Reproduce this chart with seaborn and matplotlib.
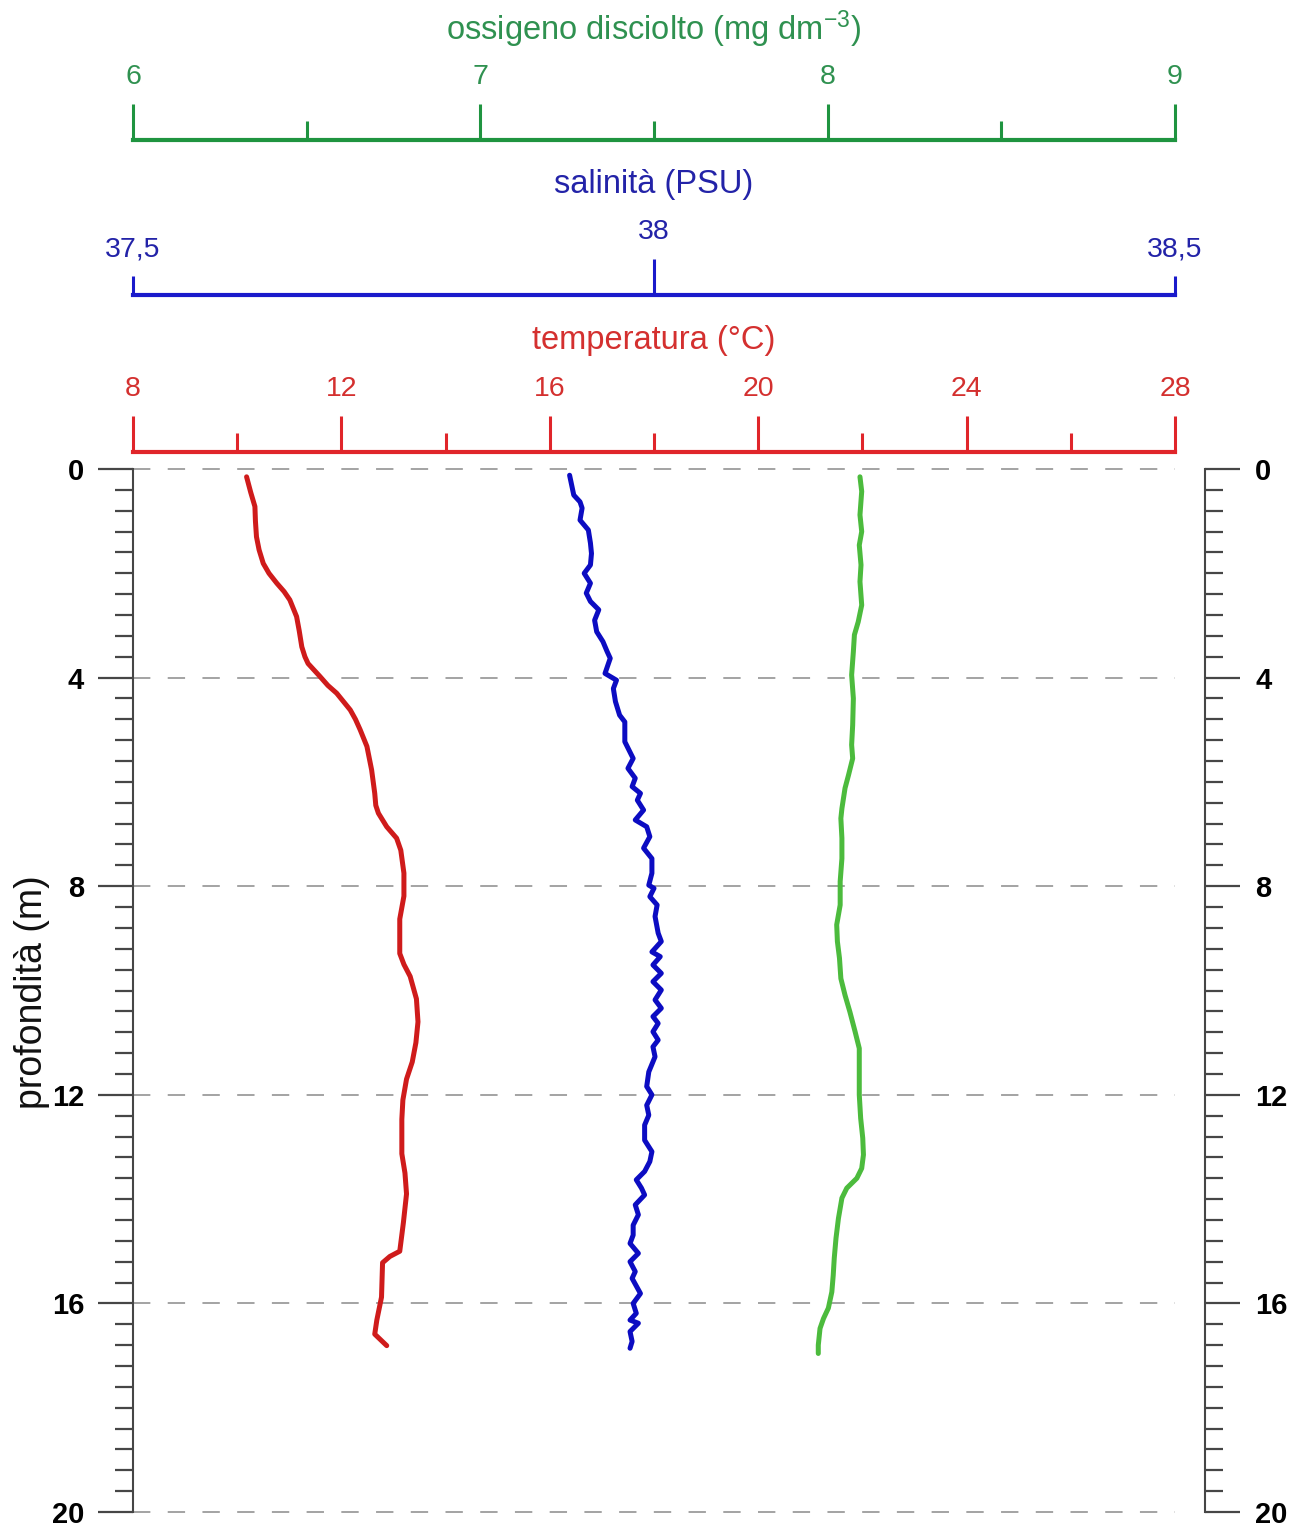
import matplotlib
matplotlib.use("Agg")
import matplotlib.pyplot as plt
from matplotlib.ticker import FixedLocator, FixedFormatter, MultipleLocator, NullFormatter
import pandas as pd
import seaborn as sns

# ---- profile data -------------------------------------------------------
temp_depth = [0.15, 0.45, 0.72, 1.0, 1.30, 1.55, 1.81, 2.0, 2.19, 2.35, 2.51, 2.83,
              3.1, 3.41, 3.6, 3.73, 3.98, 4.15, 4.30, 4.62, 4.8, 5.0, 5.32, 5.77,
              6.22, 6.45, 6.60, 6.86, 7.08, 7.31, 7.75, 8.19, 8.63, 9.29, 9.5, 9.73,
              10.16, 10.60, 11.0, 11.37, 11.70, 12.1, 12.47, 13.13, 13.5, 13.90,
              14.45, 15.0, 15.1, 15.22, 15.88, 16.32, 16.59, 16.81]
temp_values = [10.18, 10.26, 10.34, 10.35, 10.37, 10.42, 10.50, 10.61, 10.76, 10.90,
               11.01, 11.14, 11.19, 11.24, 11.30, 11.36, 11.59, 11.74, 11.91, 12.17,
               12.27, 12.36, 12.49, 12.58, 12.64, 12.66, 12.71, 12.87, 13.06, 13.14,
               13.20, 13.20, 13.12, 13.12, 13.20, 13.32, 13.44, 13.47, 13.43, 13.36,
               13.25, 13.18, 13.16, 13.16, 13.22, 13.25, 13.19, 13.12, 12.93, 12.79,
               12.77, 12.68, 12.64, 12.87]

sal_depth = [0.12, 0.50, 0.63, 0.75, 0.98, 1.17, 1.42, 1.62, 1.84, 2.00, 2.19, 2.38,
             2.54, 2.70, 2.90, 3.12, 3.31, 3.50, 3.63, 3.92, 4.05, 4.21, 4.46, 4.72,
             4.85, 5.23, 5.55, 5.74, 5.93, 6.09, 6.22, 6.35, 6.54, 6.73, 6.86, 7.05,
             7.27, 7.47, 7.75, 7.98, 8.04, 8.20, 8.36, 8.58, 8.90, 9.06, 9.26, 9.35,
             9.51, 9.67, 9.83, 9.99, 10.18, 10.34, 10.50, 10.63, 10.79, 10.95, 11.08,
             11.27, 11.56, 11.84, 12.00, 12.20, 12.39, 12.58, 12.87, 13.09, 13.28,
             13.47, 13.63, 13.79, 13.92, 14.11, 14.30, 14.50, 14.69, 14.85, 15.04,
             15.20, 15.39, 15.52, 15.81, 16.00, 16.19, 16.32, 16.38, 16.54, 16.73,
             16.86]
sal_values = [37.919, 37.923, 37.929, 37.931, 37.929, 37.937, 37.939, 37.940, 37.939,
              37.933, 37.939, 37.935, 37.939, 37.947, 37.943, 37.945, 37.951, 37.955,
              37.958, 37.953, 37.964, 37.961, 37.963, 37.967, 37.972, 37.972, 37.980,
              37.975, 37.982, 37.979, 37.987, 37.984, 37.990, 37.982, 37.993, 37.996,
              37.990, 37.998, 37.998, 37.995, 38.000, 37.996, 38.003, 38.001, 38.004,
              38.007, 37.998, 38.006, 37.999, 38.007, 37.999, 38.007, 38.001, 38.007,
              37.999, 38.004, 37.999, 38.004, 37.999, 38.001, 37.995, 37.993, 37.998,
              37.993, 37.995, 37.991, 37.991, 37.998, 37.996, 37.991, 37.983, 37.988,
              37.991, 37.982, 37.985, 37.980, 37.980, 37.977, 37.985, 37.977, 37.982,
              37.979, 37.987, 37.980, 37.983, 37.977, 37.985, 37.977, 37.979, 37.977]

oxy_depth = [0.15, 0.43, 0.88, 1.20, 1.46, 1.84, 2.16, 2.61, 2.93, 3.18, 3.50, 3.95,
             4.40, 4.91, 5.29, 5.55, 5.87, 6.12, 6.51, 6.70, 7.08, 7.47, 7.91, 8.36,
             8.74, 9.06, 9.38, 9.77, 10.09, 10.41, 10.79, 11.11, 11.56, 12.00, 12.45,
             12.83, 13.15, 13.41, 13.60, 13.79, 13.98, 14.37, 14.75, 15.13, 15.46,
             15.78, 16.09, 16.29, 16.48, 16.80, 16.96]
oxy_values = [8.093, 8.098, 8.093, 8.098, 8.091, 8.096, 8.093, 8.098, 8.088, 8.077,
              8.074, 8.069, 8.074, 8.072, 8.069, 8.072, 8.060, 8.050, 8.041, 8.038,
              8.041, 8.041, 8.036, 8.036, 8.026, 8.028, 8.034, 8.038, 8.050, 8.064,
              8.079, 8.091, 8.091, 8.091, 8.095, 8.101, 8.103, 8.098, 8.084, 8.055,
              8.041, 8.031, 8.024, 8.019, 8.016, 8.012, 8.002, 7.988, 7.978, 7.973,
              7.973]

# ---- scales --------------------------------------------------------------
temp_major = [8, 12, 16, 20, 24, 28]
temp_minor = [10, 14, 18, 22, 26]
sal_major = [38.0]
sal_major_labels = ["38"]
sal_minor = [37.5, 38.5]
sal_minor_labels = ["37,5", "38,5"]
oxy_major = [6, 7, 8, 9]
oxy_minor = [6.5, 7.5, 8.5]
depth_major = [0, 4, 8, 12, 16, 20]

temp_title = "temperatura (°C)"
sal_title = "salinità (PSU)"
oxy_title = r"ossigeno disciolto (mg dm$^{-3}$)"
depth_title = "profondità (m)"

# ---- style -------------------------------------------------------------
sns.set_style("white")
plt.rcParams["font.family"] = ["Liberation Sans", "DejaVu Sans"]
plt.rcParams["mathtext.default"] = "regular"
plt.rcParams["lines.scale_dashes"] = False

RED_AX, RED_LINE, RED_TXT = "#e0252a", "#cf1b1b", "#d4302f"
BLUE_AX, BLUE_LINE, BLUE_TXT = "#1a1acb", "#0c0cc2", "#2323a8"
GREEN_AX, GREEN_LINE, GREEN_TXT = "#1f9440", "#4cbb3d", "#2f9150"
GREY = "#464646"

TICK_FS = 20.5
DEPTH_FS = 21
TITLE_FS = 23.5
LINE_W = 3.6

W, H = 1304, 1527
PT = 72 / 100  # points per pixel at dpi=100

fig = plt.figure(figsize=(W / 100, H / 100), dpi=100)
ax = fig.add_axes([133 / W, 15 / H, 1042 / W, 1043 / H])
ax_s = ax.twiny()
ax_o = ax.twiny()
ax_r = ax.twinx()

temp_df = pd.DataFrame({"depth": temp_depth, "value": temp_values})
sal_df = pd.DataFrame({"depth": sal_depth, "value": sal_values})
oxy_df = pd.DataFrame({"depth": oxy_depth, "value": oxy_values})

sns.lineplot(data=temp_df, x="value", y="depth", sort=False, estimator=None,
             color=RED_LINE, linewidth=LINE_W, ax=ax, legend=False)
sns.lineplot(data=sal_df, x="value", y="depth", sort=False, estimator=None,
             color=BLUE_LINE, linewidth=LINE_W, ax=ax_s, legend=False)
sns.lineplot(data=oxy_df, x="value", y="depth", sort=False, estimator=None,
             color=GREEN_LINE, linewidth=LINE_W, ax=ax_o, legend=False)

ax.set_ylim(20, 0)
ax_r.set_ylim(20, 0)
ax.set_xlim(8, 28)
ax_s.set_xlim(37.5, 38.5)
ax_o.set_xlim(6, 9)

for a in (ax, ax_s, ax_o, ax_r):
    a.set_xlabel("")
    a.set_ylabel("")
    a.patch.set_visible(False)
    for s in a.spines.values():
        s.set_visible(False)

# dashed depth grid
ax.set_yticks(depth_major)
ax.yaxis.set_minor_locator(MultipleLocator(0.4))
ax.grid(axis="y", which="major", color="#a3a3a3", linewidth=1.4,
        linestyle=(0, (12.5, 12.5)))
ax.grid(axis="x", visible=False)
for gl in ax.get_ygridlines():
    gl.set_clip_on(False)

# left depth axis
ax.spines["left"].set_visible(True)
ax.spines["left"].set_color(GREY)
ax.spines["left"].set_linewidth(1.5)
ax.yaxis.set_ticks_position("left")
ax.set_yticklabels([str(v) for v in depth_major], fontweight="bold")
ax.tick_params(axis="y", which="major", direction="out", length=35 * PT, width=1.6,
               color=GREY, pad=10, labelsize=DEPTH_FS, labelcolor="black")
ax.tick_params(axis="y", which="minor", direction="out", length=18 * PT, width=1.6,
               color=GREY, left=True)

# right depth axis
ax_r.spines["right"].set_visible(True)
ax_r.spines["right"].set_position(("outward", 30 * PT))
ax_r.spines["right"].set_color(GREY)
ax_r.spines["right"].set_linewidth(1.5)
ax_r.set_yticks(depth_major)
ax_r.set_yticklabels([str(v) for v in depth_major], fontweight="bold")
ax_r.yaxis.set_minor_locator(MultipleLocator(0.4))
ax_r.tick_params(axis="y", which="major", direction="out", length=35 * PT, width=1.6,
                 color=GREY, pad=11, labelsize=DEPTH_FS, labelcolor="black",
                 right=True, left=False)
ax_r.tick_params(axis="y", which="minor", direction="out", length=18 * PT, width=1.6,
                 color=GREY, right=True, left=False)
ax_r.tick_params(axis="x", which="both", top=False, bottom=False,
                 labeltop=False, labelbottom=False)


def top_scale(a, offset_px, color, txt_color, major, major_labels, minor, minor_labels):
    a.xaxis.set_ticks_position("top")
    a.xaxis.set_label_position("top")
    sp = a.spines["top"]
    sp.set_visible(True)
    sp.set_position(("outward", offset_px * PT))
    sp.set_color(color)
    sp.set_linewidth(3.0)
    sp.set_capstyle("projecting")
    a.xaxis.set_major_locator(FixedLocator(major))
    a.xaxis.set_major_formatter(FixedFormatter(major_labels))
    a.xaxis.set_minor_locator(FixedLocator(minor))
    if minor_labels:
        a.xaxis.set_minor_formatter(FixedFormatter(minor_labels))
    else:
        a.xaxis.set_minor_formatter(NullFormatter())
    a.tick_params(axis="x", which="major", direction="out", length=36 * PT, width=2.2,
                  color=color, labelcolor=txt_color, labelsize=TICK_FS, pad=10,
                  top=True, bottom=False, labeltop=True, labelbottom=False)
    a.tick_params(axis="x", which="minor", direction="out", length=19 * PT, width=2.2,
                  color=color, labelcolor=txt_color, labelsize=TICK_FS, pad=10,
                  top=True, bottom=False, labeltop=True, labelbottom=False)


top_scale(ax, 17, RED_AX, RED_TXT, temp_major, [str(v) for v in temp_major],
          temp_minor, None)
top_scale(ax_s, 174, BLUE_AX, BLUE_TXT, sal_major, sal_major_labels,
          sal_minor, sal_minor_labels)
top_scale(ax_o, 329, GREEN_AX, GREEN_TXT, oxy_major, [str(v) for v in oxy_major],
          oxy_minor, None)

# scale titles
cx = 654 / W
fig.text(cx, 1 - 341 / H, temp_title, color=RED_TXT, fontsize=TITLE_FS,
         ha="center", va="center")
fig.text(cx, 1 - 184 / H, sal_title, color=BLUE_TXT, fontsize=TITLE_FS,
         ha="center", va="center")
fig.text(cx, 1 - 29 / H, oxy_title, color=GREEN_TXT, fontsize=TITLE_FS,
         ha="center", va="center")
fig.text(32 / W, 1 - 992 / H, depth_title, color="#111111", fontsize=27,
         rotation=90, ha="center", va="center")

fig.savefig("out.png", dpi=100, facecolor="white")
